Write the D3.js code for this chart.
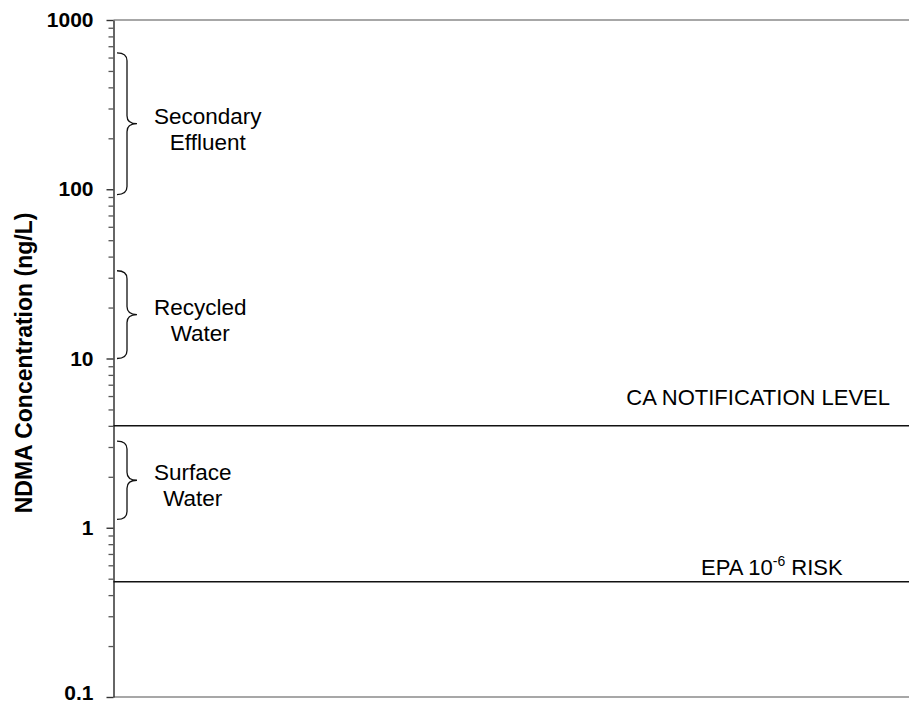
<!DOCTYPE html>
<html>
<head>
<meta charset="utf-8">
<script src="https://cdn.jsdelivr.net/npm/d3@7"></script>
<style>
  body { margin: 0; background: #fff; }
  text { font-family: "Liberation Sans", Arial, sans-serif; fill: #000; }
</style>
</head>
<body>
<svg id="chart"></svg>
<script>
// data
var tickValues = [0.1, 1, 10, 100, 1000];
var tickLabels = ['0.1', '1', '10', '100', '1000'];

var rangeNames = [['Secondary', 'Effluent'], ['Recycled', 'Water'], ['Surface', 'Water']];
var rangeLow = [93, 10, 1.12];
var rangeHigh = [640, 33, 3.25];

var refNames = ['CA NOTIFICATION LEVEL', 'EPA 10-6 RISK'];
var refValues = [4, 0.48];

// layout
var config = { width: 909, height: 708, axisX: 113.5, top: 20, bottom: 697 };

var svg = d3.select('#chart')
  .attr('width', config.width)
  .attr('height', config.height);

var y = d3.scaleLog().domain([0.1, 1000]).range([config.bottom, config.top]);

// minor ticks 2..9 in each decade
var minor = [];
for (var p = -1; p < 3; p++) {
  for (var k = 2; k <= 9; k++) minor.push(k * Math.pow(10, p));
}

// top and bottom frame lines
svg.selectAll('line.frame')
  .data([1000, 0.1])
  .enter().append('line')
  .attr('x1', config.axisX).attr('x2', config.width)
  .attr('y1', d => y(d)).attr('y2', d => y(d))
  .attr('stroke', '#8a8a8a').attr('stroke-width', 1.5);

// y axis with major ticks
var axis = svg.append('g')
  .attr('transform', 'translate(' + config.axisX + ',0)')
  .call(d3.axisLeft(y)
    .tickValues(tickValues)
    .tickFormat((d, i) => tickLabels[i])
    .tickSizeInner(7)
    .tickSizeOuter(0)
    .tickPadding(13));
axis.select('.domain').attr('stroke', '#333').attr('stroke-width', 1.5);
axis.selectAll('.tick line').attr('stroke', '#333').attr('stroke-width', 1.4);
axis.selectAll('.tick text')
  .attr('font-family', '"Liberation Sans", Arial, sans-serif')
  .attr('font-size', 21).attr('font-weight', 'bold').attr('fill', '#000')
  .attr('dy', d => d === 0.1 ? '0.1em' : '0.32em');

// minor ticks
svg.append('g')
  .attr('transform', 'translate(' + config.axisX + ',0)')
  .call(d3.axisLeft(y).tickValues(minor).tickFormat(() => '').tickSizeInner(5).tickSizeOuter(0))
  .call(g => g.select('.domain').remove())
  .selectAll('.tick line').attr('stroke', '#555').attr('stroke-width', 1.3);

// axis title
svg.append('text')
  .attr('transform', 'translate(32,363) rotate(-90)')
  .attr('text-anchor', 'middle')
  .attr('font-size', 23).attr('font-weight', 'bold')
  .text('NDMA Concentration (ng/L)');

// reference lines
var refLayout = [
  { anchor: 'end', x: 890, dy: -21 },
  { anchor: 'start', x: 701, dy: -7 }
];
refValues.forEach(function(v, i) {
  svg.append('line')
    .attr('x1', config.axisX).attr('x2', config.width)
    .attr('y1', y(v)).attr('y2', y(v))
    .attr('stroke', '#111').attr('stroke-width', 1.5);
  var t = svg.append('text')
    .attr('x', refLayout[i].x)
    .attr('y', y(v) + refLayout[i].dy)
    .attr('text-anchor', refLayout[i].anchor)
    .attr('font-size', 22);
  var m = refNames[i].match(/^(.*10)(-\d+)(.*)$/);
  if (m) {
    t.append('tspan').text(m[1]);
    t.append('tspan').attr('dy', -9).attr('font-size', 14).text(m[2]);
    t.append('tspan').attr('dy', 9).text(m[3]);
  } else {
    t.text(refNames[i]);
  }
});

// curly braces with labels
var bx0 = 117, bx1 = 127, bx2 = 137, r = 8;
rangeNames.forEach(function(lines, i) {
  var top = y(rangeHigh[i]), bot = y(rangeLow[i]), mid = (top + bot) / 2;
  var path = 'M' + bx0 + ',' + top +
    'Q' + bx1 + ',' + top + ' ' + bx1 + ',' + (top + r) +
    'L' + bx1 + ',' + (mid - r) +
    'Q' + bx1 + ',' + mid + ' ' + bx2 + ',' + mid +
    'Q' + bx1 + ',' + mid + ' ' + bx1 + ',' + (mid + r) +
    'L' + bx1 + ',' + (bot - r) +
    'Q' + bx1 + ',' + bot + ' ' + bx0 + ',' + bot;
  svg.append('path')
    .attr('d', path)
    .attr('fill', 'none')
    .attr('stroke', '#111')
    .attr('stroke-width', 1.3);

  var label = svg.append('text')
    .attr('text-anchor', 'middle')
    .attr('font-size', 22.5);
  var spans = lines.map(function(s, j) {
    return label.append('tspan').attr('y', mid + j * 26).text(s);
  });
  var w = spans[0].node().getComputedTextLength();
  spans.forEach(s => s.attr('x', 154 + w / 2));
});
</script>
</body>
</html>
